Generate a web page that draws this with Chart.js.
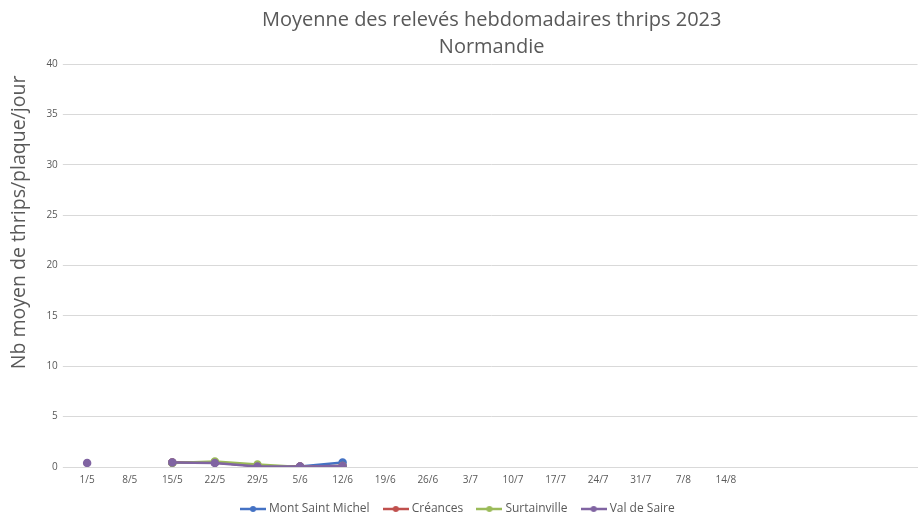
<!DOCTYPE html>
<html>
<head>
<meta charset="utf-8">
<script src="https://cdn.jsdelivr.net/npm/chart.js@4/dist/chart.umd.min.js"></script>
<style>
  html, body { margin: 0; padding: 0; background: #fff; }
  #wrap { width: 923px; height: 513px; }
</style>
</head>
<body>
<div id="wrap"><canvas id="thripsChart"></canvas></div>
<script>
// Weeks (last few categories have no label in the original)
const weeks = ['1/5', '8/5', '15/5', '22/5', '29/5', '5/6', '12/6', '19/6', '26/6', '3/7',
               '10/7', '17/7', '24/7', '31/7', '7/8', '14/8', '', '', '', ''];

// Mean thrips per plate per day, by site
const montSaintMichel = [null, null, 0.45, 0.45, 0.1, 0.05, 0.45];
const creances        = [null, null, 0.45, 0.45, 0.1, 0.05, 0.1];
const surtainville    = [null, null, 0.4, 0.55, 0.25, 0.0, 0.1];
const valDeSaire      = [0.4, null, 0.45, 0.4, 0.05, 0.05, 0.1];

const siteNames = ['Mont Saint Michel', 'Créances', 'Surtainville', 'Val de Saire'];
const siteColors = ['#4472c4', '#c0504d', '#9bbb59', '#8064a2'];
const siteValues = [montSaintMichel, creances, surtainville, valDeSaire];

// Legend icon: short line with a dot in the middle, Excel style
function legendIcon(color) {
    const c = document.createElement('canvas');
    c.width = 26;
    c.height = 8;
    const g = c.getContext('2d');
    g.strokeStyle = color;
    g.lineWidth = 2.5;
    g.beginPath();
    g.moveTo(0, 4);
    g.lineTo(26, 4);
    g.stroke();
    g.fillStyle = color;
    g.beginPath();
    g.arc(13, 4, 3, 0, Math.PI * 2);
    g.fill();
    return c;
}

const textColor = '#595959';
const font = "'Open Sans', 'Liberation Sans', sans-serif";

// later sites are drawn on top, as in the spreadsheet
const datasets = siteNames.map((name, i) => ({
    label: name,
    data: siteValues[i],
    borderColor: siteColors[i],
    backgroundColor: siteColors[i],
    borderWidth: 2.5,
    pointRadius: 3,
    pointHoverRadius: 3,
    spanGaps: false,
    tension: 0,
    order: siteNames.length - i
}));

const ctx = document.getElementById('thripsChart').getContext('2d');
new Chart(ctx, {
    type: 'line',
    data: { labels: weeks, datasets },
    options: {
        responsive: true,
        maintainAspectRatio: false,
        animation: false,
        layout: { padding: { left: 4, right: 3, top: 0, bottom: -12 } },
        plugins: {
            title: {
                display: true,
                fullSize: false,
                text: ['Moyenne des relevés hebdomadaires thrips 2023', 'Normandie'],
                color: textColor,
                font: { family: font, size: 20, weight: 'normal', lineHeight: 1.35 },
                padding: { top: 7, bottom: 3 }
            },
            legend: {
                position: 'bottom',
                labels: {
                    color: textColor,
                    font: { family: font, size: 12 },
                    usePointStyle: true,
                    pointStyleWidth: 20,
                    boxHeight: 8,
                    padding: 10,
                    generateLabels: chart => chart.data.datasets.map((ds, i) => ({
                        text: ds.label + '  ',
                        pointStyle: legendIcon(siteColors[i]),
                        fontColor: textColor,
                        datasetIndex: i,
                        hidden: false,
                        lineWidth: 0
                    }))
                }
            },
            tooltip: { enabled: false }
        },
        scales: {
            x: {
                offset: true,
                grid: { display: false, drawTicks: false },
                border: { color: '#d9d9d9' },
                ticks: {
                    color: textColor,
                    font: { family: font, size: 10 },
                    autoSkip: false,
                    maxRotation: 0,
                    padding: 7
                }
            },
            y: {
                min: 0,
                max: 40,
                title: {
                    display: true,
                    // leading spaces lift the title a little, as in the original
                    text: '                 Nb moyen de thrips/plaque/jour',
                    color: textColor,
                    font: { family: font, size: 19.5 },
                    padding: { bottom: 10 }
                },
                grid: { color: '#d9d9d9', tickLength: 3, tickColor: '#d9d9d9' },
                border: { display: false },
                ticks: {
                    stepSize: 5,
                    color: textColor,
                    font: { family: font, size: 10 },
                    padding: 5
                }
            }
        }
    }
});
</script>
</body>
</html>
